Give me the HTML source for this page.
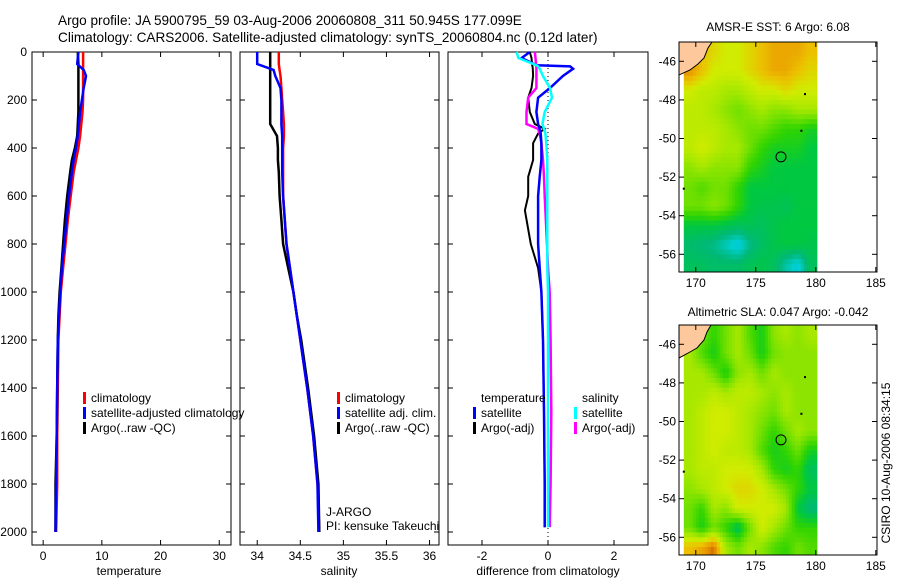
<!DOCTYPE html>
<html><head><meta charset="utf-8"><style>
html,body{margin:0;padding:0;background:#fff;}
svg{display:block;font-family:"Liberation Sans",sans-serif;}
text{font-size:12px;fill:#000;}
</style></head><body>
<svg id="svg" width="900" height="580" viewBox="0 0 900 580">
<text x="58" y="25" style="font-size:13.6px">Argo profile: JA 5900795_59 03-Aug-2006 20060808_311 50.945S 177.099E</text>
<text x="58" y="42" style="font-size:13.6px">Climatology: CARS2006. Satellite-adjusted climatology: synTS_20060804.nc (0.12d later)</text>
<text x="778" y="31" text-anchor="middle">AMSR-E SST: 6 Argo: 6.08</text>
<text x="778" y="316" text-anchor="middle">Altimetric SLA: 0.047 Argo: -0.042</text>
<text transform="translate(890,463) rotate(-90)" text-anchor="middle">CSIRO 10-Aug-2006 08:34:15</text>
<text x="129" y="575" text-anchor="middle">temperature</text>
<text x="339" y="575" text-anchor="middle">salinity</text>
<text x="548" y="575" text-anchor="middle">difference from climatology</text>
<text x="326" y="516">J-ARGO</text>
<text x="326" y="530">PI: kensuke Takeuchi</text>
</svg>
<script>
// ---------- data ----------
const depthTicks = [0,200,400,600,800,1000,1200,1400,1600,1800,2000];
const tempTicks = [0,10,20,30];
const salTicks = [34,34.5,35,35.5,36];
const salTickLabels = ["34","34.5","35","35.5","36"];
const diffTicks = [-2,0,2];
const depths = [0,50,75,100,150,200,250,300,350,400,450,500,600,700,800,900,1000,1100,1200,1400,1600,1800,2000];
const tempClim = [6.8,6.8,6.8,6.8,6.8,6.8,6.7,6.5,6.3,6.0,5.6,5.2,4.7,4.2,3.8,3.4,3.0,2.8,2.6,2.5,2.4,2.4,2.2];
const tempSat  = [6.0,5.8,6.9,7.3,6.9,6.6,6.3,6.1,5.9,5.6,5.2,4.9,4.4,4.0,3.6,3.2,2.9,2.7,2.5,2.4,2.3,2.2,2.1];
const tempArgo = [5.9,6.0,6.0,6.0,6.0,6.0,6.0,5.9,5.8,5.4,4.9,4.6,4.1,3.7,3.4,3.1,2.8,2.6,2.5,2.4,2.3,2.1,2.1];
const salClim = [34.25,34.25,34.26,34.27,34.28,34.29,34.3,34.31,34.31,34.3,34.3,34.3,34.3,34.32,34.34,34.38,34.42,34.46,34.5,34.58,34.65,34.7,34.72];
const salSat  = [34.0,34.0,34.19,34.21,34.27,34.28,34.28,34.28,34.29,34.29,34.29,34.29,34.3,34.32,34.34,34.38,34.42,34.46,34.5,34.58,34.65,34.7,34.71];
const salArgo = [34.15,34.15,34.15,34.15,34.15,34.15,34.15,34.15,34.23,34.24,34.24,34.25,34.26,34.28,34.3,34.36,34.42,34.46,34.51,34.59,34.66,34.71,34.72];
const dDepths = [0,25,55,60,70,100,150,190,250,300,320,340,380,450,520,600,660,800,900,1000,1200,1500,1800,1980];
const dTempSat  = [-0.55,-0.8,-0.35,0.67,0.76,0.45,0.06,-0.3,-0.35,-0.3,-0.25,-0.22,-0.2,-0.2,-0.25,-0.3,-0.3,-0.3,-0.25,-0.2,-0.15,-0.12,-0.1,-0.1];
const dTempArgo = [-0.55,-0.5,-0.48,-0.47,-0.46,-0.45,-0.5,-0.6,-0.55,-0.4,-0.1,-0.3,-0.45,-0.45,-0.6,-0.6,-0.7,-0.52,-0.3,-0.2,-0.15,-0.12,-0.1,-0.1];
const dSalSat   = [-0.95,-0.9,-0.35,-0.3,-0.25,-0.15,0.06,0.12,-0.1,-0.17,-0.12,-0.08,-0.05,-0.02,-0.02,-0.02,-0.02,-0.02,-0.02,0,0,0,0,0];
const dSalArgo  = [-0.4,-0.38,-0.36,-0.35,-0.35,-0.35,-0.35,-0.6,-0.65,-0.65,-0.3,-0.25,-0.2,-0.15,-0.12,-0.1,-0.08,-0.03,0,0.05,0.08,0.1,0.08,0.05];
const lonTicks = [170,175,180,185];
const latTicks = [-46,-48,-50,-52,-54,-56];
const gridLons = [169,170,171,172,173,174,175,176,177,178,179];
const gridLats = [-45,-46,-47,-48,-49,-50,-51,-52,-53,-54,-55,-56];
const sstGrid = [
 [8,8,7.5,7,7,7.5,8,8.5,8.5,8.5,8],
 [9,8,7,7,7,7.5,8,8.5,8.5,8,7.5],
 [7,6.5,6.5,6,6,6.5,7,7,7.5,7,7],
 [6.5,6.5,6,5.5,5,5.5,6,5.5,5.5,6,6],
 [6.5,6.5,6.5,6,5.5,5,5,4.5,4,4,3.5],
 [6.5,7,6.5,6,6,5,4,3.5,3.5,3.5,3],
 [5.5,6,5.5,5.5,5.5,4,3.5,3,3,3,3],
 [5,4.5,5,5,4,3,3,3,3,3,3],
 [5,5,5.5,5,4,3,2.8,2.8,2.6,3,3],
 [3,3,3,2.8,2.6,2.7,2.5,2.8,3,3,3],
 [2.2,2,1.8,1.2,0.6,1.8,2.4,2.8,3,3,2.8],
 [2.5,2.5,2.3,2.3,2.3,2.6,2.8,2.5,1.5,0.8,2.5]];
const slaGrid = [
 [6,5,4,5,6,4.5,3.5,5.5,6,5.5,6],
 [6,4.5,3.5,5,6,5,3.5,5,5.5,5.5,5.5],
 [6,6,5,3.5,5.5,6,5,6,5.5,5.5,5.5],
 [6,6,6.5,6,6.5,6.5,6,5.5,6,5.5,5.5],
 [6,6.5,7,7,6.5,6,5.5,5,6,5.5,5.5],
 [6,6.5,7,7,6.5,6,5,4,5,6,5.5],
 [6,6.5,7,6.5,6.5,6,4.5,3.5,4,5,3.5],
 [6,6.5,6.5,7,7,7,6,4,3.5,4,2.5],
 [5.5,6,6.5,7,7.5,7.5,7,6,5,4,3],
 [5,4,6,5.5,7,7,7,7,6,3,2],
 [5,3.5,5,4,2.5,5,7,6,5,4,4],
 [8,8.5,9.5,6,5,6,5.5,4.5,4,5,4.5]];
const palette = ["#00a0f0","#00d0d0","#00b878","#00c840","#30d400","#70e000","#a8e800","#d0ec00","#ecc000","#e89000","#b84800"];

// ---------- helpers ----------
const NS="http://www.w3.org/2000/svg", svg=document.getElementById("svg");
function mk(tag,attrs,parent){const e=document.createElementNS(NS,tag);for(const k in attrs)e.setAttribute(k,attrs[k]);(parent||svg).appendChild(e);return e;}
const Y0=52, Y1=545, depthY=d=>Y0+d*0.24;

function panel(name,x0,x1,xmin,xmax,ticks,labels,showY){
  const sx=v=>x0+(v-xmin)/(xmax-xmin)*(x1-x0);
  const g=mk("g",{});
  
  
  const r=mk("rect",{x:x0,y:Y0,width:x1-x0,height:Y1-Y0,fill:"none",stroke:"#000","stroke-width":1},g);
  
  
  ticks.forEach((t,i)=>{
    const x=sx(t);
    mk("line",{x1:x,x2:x,y1:Y0,y2:Y0+5,stroke:"#000"},g);
    mk("line",{x1:x,x2:x,y1:Y1,y2:Y1-5,stroke:"#000"},g);
    const tx=mk("text",{x:x,y:Y1+15,"text-anchor":"middle"},g);
    tx.textContent=labels[i];
    
    
  });
  depthTicks.forEach(d=>{
    const y=depthY(d);
    mk("line",{x1:x0,x2:x0+5,y1:y,y2:y,stroke:"#000"},g);
    mk("line",{x1:x1,x2:x1-5,y1:y,y2:y,stroke:"#000"},g);
    if(showY){const tx=mk("text",{x:x0-5,y:y+4,"text-anchor":"end"},g);tx.textContent=d;
      
      }
  });
  return {sx,g};
}
function line(p,ds,vs,color,name,w){
  const pts=ds.map((d,i)=>p.sx(vs[i]).toFixed(1)+","+depthY(d).toFixed(1)).join(" ");
  const l=mk("polyline",{points:pts,fill:"none",stroke:color,"stroke-width":w||2.5,"stroke-linejoin":"miter"},p.g);
  
  
}
function legend(items,x,y){
  items.forEach((it,i)=>{
    const yy=y+i*15;
    if(it[0]) mk("rect",{x:x,y:yy-10,width:3,height:12,fill:it[0]});
    const t=mk("text",{x:x+8,y:yy});t.textContent=it[1];
    
    
  });
}
function hex(c){return [1,3,5].map(i=>parseInt(c.substr(i,2),16));}
function colorOf(v){
  v=Math.max(0,Math.min(palette.length-1,v));
  const i=Math.min(Math.floor(v),palette.length-2), f=v-i;
  const a=hex(palette[i]), b=hex(palette[i+1]);
  return "rgb("+a.map((x,k)=>Math.round(x+(b[k]-x)*f)).join(",")+")";
}
function sample(grid,r,c){
  r=Math.max(0,Math.min(grid.length-1,r)); c=Math.max(0,Math.min(grid[0].length-1,c));
  const r0=Math.min(Math.floor(r),grid.length-2), c0=Math.min(Math.floor(c),grid[0].length-2);
  const fr=r-r0, fc=c-c0;
  const top=grid[r0][c0]*(1-fc)+grid[r0][c0+1]*fc, bot=grid[r0+1][c0]*(1-fc)+grid[r0+1][c0+1]*fc;
  return top*(1-fr)+bot*fr;
}

// temperature panel
const pT=panel("temperature",32,231,-1.9,32,tempTicks,tempTicks.map(String),true);
line(pT,depths,tempClim,"#f00","temp-climatology-line");
line(pT,depths,tempArgo,"#000","temp-argo-line");
line(pT,depths,tempSat,"#00f","temp-satellite-line");
legend([["#f00","climatology"],["#00f","satellite-adjusted climatology"],["#000","Argo(..raw -QC)"]],83,402);

// salinity panel
const pS=panel("salinity",240,439,33.8,36.11,salTicks,salTickLabels,false);
line(pS,depths,salClim,"#f00","sal-climatology-line");
line(pS,depths,salArgo,"#000","sal-argo-line");
line(pS,depths,salSat,"#00f","sal-satellite-line");
legend([["#f00","climatology"],["#00f","satellite adj. clim."],["#000","Argo(..raw -QC)"]],337,402);

// difference panel
const pD=panel("difference",448,648,-3.03,3.03,diffTicks,diffTicks.map(String),false);
mk("line",{x1:pD.sx(0),x2:pD.sx(0),y1:Y0,y2:Y1,stroke:"#000","stroke-dasharray":"1,3"},pD.g);
line(pD,dDepths,dTempArgo,"#000","diff-temp-argo-line",2);
line(pD,dDepths,dSalArgo,"#f0f","diff-sal-argo-line",2.5);
line(pD,dDepths,dTempSat,"#00f","diff-temp-satellite-line",2.5);
line(pD,dDepths,dSalSat,"#0ff","diff-sal-satellite-line",2.5);
legend([[null,"temperature"],["#00f","satellite"],["#000","Argo(-adj)"]],473,402);
legend([[null,"salinity"],["#0ff","satellite"],["#f0f","Argo(-adj)"]],574,402);

// maps
function map(name,top,grid,landPts){
  const L=679,R=877,B=top+230;
  const sx=v=>L+(v-168.6)*12, sy=v=>top+(-45.0-v)*19.3;
  const g=mk("g",{});
  
  
  const cp=mk("clipPath",{id:name+"clip"},g);mk("rect",{x:L,y:top,width:R-L,height:B-top},cp);
  const cg=mk("g",{"clip-path":"url(#"+name+"clip)"},g);
  const step=0.25, lonMin=gridLons[0], lonMax=180.1, latTop=gridLats[0];
  for(let lat=latTop; lat>-57.2; lat-=step){
    for(let lon=lonMin; lon<lonMax; lon+=step){
      const r=(latTop-(lat-step/2))-0.5, c=(lon+step/2-lonMin)-0.5;
      const v=sample(grid,r,c);
      const x=sx(lon), y=sy(lat), w=Math.min(sx(lon+step),sx(lonMax))-x;
      const cell=mk("rect",{x:x.toFixed(1),y:y.toFixed(1),width:(w+0.4).toFixed(1),height:(step*19.3+0.4).toFixed(1),fill:colorOf(v)},cg);
      
      
    }
  }
  const land=mk("polygon",{points:landPts,fill:"#fcc89c",stroke:"#000","stroke-width":1},cg);
  
  
  const circ=mk("circle",{cx:sx(177.1),cy:sy(-50.95),r:5,fill:"none",stroke:"#000"},g);
  
  
  [[179.1,-47.7],[178.8,-49.6],[169,-52.6]].forEach(p=>mk("rect",{x:sx(p[0])-1,y:sy(p[1])-1,width:2,height:2,fill:"#000"},g));
  mk("rect",{x:L,y:top,width:R-L,height:B-top,fill:"none",stroke:"#000"},g);
  lonTicks.forEach(v=>{const x=sx(v);mk("line",{x1:x,x2:x,y1:B,y2:B-5,stroke:"#000"},g);mk("line",{x1:x,x2:x,y1:top,y2:top+5,stroke:"#000"},g);
    const t=mk("text",{x:x,y:B+15,"text-anchor":"middle"},g);t.textContent=v;
    
    });
  latTicks.forEach(v=>{const y=sy(v);mk("line",{x1:L,x2:L+5,y1:y,y2:y,stroke:"#000"},g);mk("line",{x1:R,x2:R-5,y1:y,y2:y,stroke:"#000"},g);
    const t=mk("text",{x:676,y:y+4,"text-anchor":"end"},g);t.textContent=v;
    
    });
}
map("sst",42,sstGrid,"679,42 712,42 708,48 704,58 698,64 690,70 679,75");
map("sla",325,slaGrid,"679,325 711,325 707,332 704,340 697,348 690,352 679,358");
</script>
</body></html>
